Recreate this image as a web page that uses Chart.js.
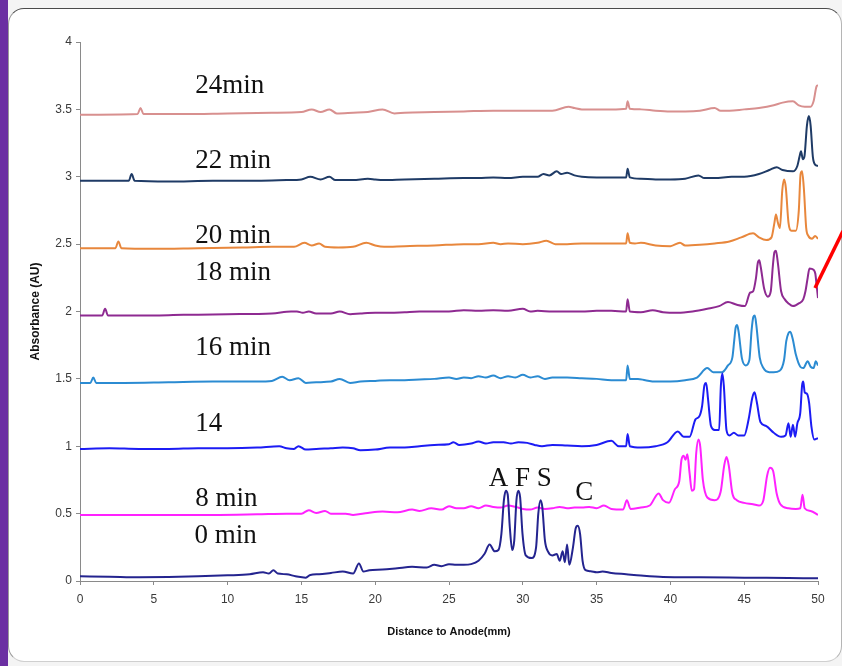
<!DOCTYPE html>
<html>
<head>
<meta charset="utf-8">
<script src="https://cdn.jsdelivr.net/npm/chart.js@4.4.1/dist/chart.umd.min.js"></script>
<style>
  html,body{margin:0;padding:0;}
  body{width:842px;height:666px;background:#f4f4f4;position:relative;overflow:hidden;}
  #bar{position:absolute;left:0;top:0;width:8px;height:666px;background:#6b2fa2;}
  #card{position:absolute;left:8px;top:8px;width:832px;height:652px;background:#fff;
    border-top:1.5px solid #4a4a4a;border-left:1px solid #9a9a9a;border-right:1px solid #b5b5b5;border-bottom:1px solid #cfcfcf;
    border-radius:16px;}
  #wrap{position:absolute;left:0;top:0;width:842px;height:666px;}
  #arrow{position:absolute;left:0;top:0;}
</style>
</head>
<body>
<div id="bar"></div>
<div id="card"></div>
<div id="wrap"><canvas id="chart" width="842" height="666"></canvas></div>
<svg id="arrow" width="842" height="666"><line x1="843" y1="231" x2="815" y2="288" stroke="#ff0000" stroke-width="3.5"/></svg>
<script>
/* electropherogram traces, x = distance to anode (mm), y = absorbance (AU) */
const trace0 = [[0,0.035],[2,0.032],[4,0.028],[6,0.03],[8,0.035],[10,0.042],[11.5,0.05],[12.4,0.065],[12.8,0.055],[13.1,0.08],[13.4,0.055],[14,0.05],[14.6,0.035],[15.3,0.025],[15.6,0.045],[16.2,0.05],[17,0.06],[17.8,0.07],[18.5,0.055],[18.9,0.13],[19.2,0.07],[19.6,0.08],[20.5,0.085],[21.5,0.095],[22.5,0.105],[23.5,0.1],[24,0.12],[24.5,0.11],[25,0.125],[25.5,0.12],[26,0.12],[26.5,0.125],[27,0.15],[27.4,0.2],[27.75,0.27],[28.1,0.22],[28.35,0.23],[28.55,0.35],[28.72,0.6],[28.85,0.67],[28.98,0.64],[29.12,0.4],[29.28,0.23],[29.42,0.3],[29.57,0.6],[29.7,0.67],[29.82,0.62],[29.98,0.35],[30.2,0.19],[30.6,0.17],[30.9,0.25],[31.05,0.5],[31.2,0.6],[31.32,0.55],[31.5,0.3],[31.7,0.22],[32.0,0.19],[32.3,0.2],[32.5,0.15],[32.7,0.22],[32.85,0.14],[33.0,0.27],[33.15,0.12],[33.4,0.25],[33.58,0.39],[33.72,0.41],[33.88,0.35],[34.05,0.15],[34.25,0.08],[34.6,0.072],[35,0.065],[35.4,0.07],[36,0.06],[37,0.05],[38,0.04],[39.5,0.03],[42,0.028],[45,0.025],[48,0.022],[50,0.02]];
const trace8 = [[0,0.49],[3,0.49],[6,0.49],[9,0.49],[12,0.495],[14,0.5],[15,0.5],[15.5,0.525],[16,0.505],[16.6,0.52],[17,0.5],[18,0.5],[18.5,0.49],[19.5,0.505],[20.5,0.515],[21.5,0.51],[22.5,0.53],[23,0.52],[23.8,0.54],[24.5,0.53],[25,0.555],[25.5,0.54],[26,0.54],[26.5,0.555],[27,0.54],[27.5,0.56],[28,0.55],[28.5,0.545],[29,0.56],[29.5,0.55],[30,0.535],[30.5,0.53],[31,0.545],[31.5,0.535],[32,0.54],[32.5,0.55],[33,0.54],[33.5,0.545],[34,0.545],[34.5,0.55],[35,0.54],[35.5,0.56],[36,0.535],[36.8,0.53],[37.05,0.6],[37.3,0.535],[38,0.545],[38.6,0.56],[39.2,0.65],[39.5,0.6],[39.9,0.58],[40.3,0.68],[40.6,0.74],[40.75,0.9],[40.9,0.93],[41.02,0.9],[41.15,0.94],[41.3,0.8],[41.45,0.67],[41.6,0.68],[41.75,0.95],[41.9,1.05],[42.02,1.0],[42.2,0.75],[42.5,0.62],[43.0,0.6],[43.4,0.66],[43.65,0.86],[43.8,0.92],[43.95,0.86],[44.2,0.65],[44.5,0.6],[45,0.58],[45.6,0.57],[46,0.56],[46.3,0.6],[46.55,0.78],[46.75,0.84],[46.95,0.82],[47.2,0.65],[47.45,0.57],[48,0.54],[48.5,0.535],[48.8,0.54],[48.95,0.64],[49.1,0.54],[49.5,0.52],[50,0.49]];
const trace14 = [[0,0.98],[2,0.985],[4,0.98],[6,0.98],[8,0.985],[10,0.985],[12,0.99],[13.5,1.0],[14.0,0.985],[14.5,0.98],[14.8,1.0],[15.3,0.975],[16,0.98],[17,0.985],[17.8,0.99],[18.5,0.985],[19,0.97],[20,0.975],[21,0.99],[22,0.99],[23,1.0],[24,1.01],[25,1.015],[25.3,1.03],[25.7,1.01],[26.5,1.02],[27,1.035],[27.5,1.02],[28,1.03],[28.7,1.03],[29.2,1.02],[29.7,1.03],[30.3,1.025],[30.8,1.01],[31.3,1.0],[32,1.01],[33,1.005],[34,1.0],[35,1.01],[36,1.04],[36.5,1.0],[37,1.0],[37.1,1.09],[37.25,1.0],[38,0.99],[39,1.0],[39.8,1.03],[40.5,1.11],[40.9,1.07],[41.3,1.07],[41.7,1.2],[41.95,1.22],[42.15,1.3],[42.3,1.45],[42.42,1.47],[42.55,1.35],[42.75,1.15],[43.0,1.12],[43.3,1.12],[43.42,1.45],[43.52,1.54],[43.62,1.45],[43.8,1.12],[44.0,1.08],[44.3,1.1],[44.6,1.08],[45.0,1.08],[45.3,1.2],[45.55,1.36],[45.7,1.4],[45.85,1.33],[46.1,1.18],[46.5,1.15],[47,1.1],[47.5,1.07],[47.8,1.08],[48.0,1.17],[48.15,1.07],[48.3,1.16],[48.45,1.07],[48.6,1.17],[48.8,1.25],[48.92,1.45],[49.0,1.48],[49.1,1.4],[49.25,1.39],[49.4,1.32],[49.55,1.15],[49.75,1.05],[50,1.06]];
const trace16 = [[0,1.47],[0.7,1.47],[0.9,1.51],[1.1,1.47],[3,1.47],[6,1.475],[9,1.48],[12,1.48],[13,1.485],[13.7,1.515],[14.2,1.49],[14.8,1.505],[15.3,1.47],[16,1.475],[17,1.48],[17.6,1.5],[18.3,1.47],[19,1.48],[20,1.485],[21,1.49],[22,1.49],[23,1.495],[24,1.5],[25,1.51],[25.5,1.5],[26,1.51],[26.5,1.505],[27,1.52],[27.5,1.51],[28,1.525],[28.5,1.505],[29,1.52],[29.5,1.51],[30,1.53],[30.5,1.51],[31,1.52],[31.5,1.5],[32,1.51],[33,1.51],[34,1.505],[35,1.5],[36,1.49],[37,1.49],[37.1,1.6],[37.25,1.5],[37.8,1.5],[38.3,1.49],[39,1.48],[40,1.48],[41,1.49],[41.8,1.51],[42.5,1.58],[42.9,1.55],[43.5,1.55],[43.9,1.6],[44.2,1.66],[44.32,1.78],[44.42,1.88],[44.52,1.9],[44.62,1.85],[44.85,1.65],[45.1,1.6],[45.35,1.64],[45.5,1.86],[45.62,1.96],[45.72,1.97],[45.82,1.9],[46.05,1.66],[46.3,1.58],[46.7,1.55],[47.0,1.55],[47.4,1.56],[47.7,1.64],[47.85,1.78],[48.0,1.84],[48.12,1.85],[48.28,1.8],[48.5,1.68],[48.8,1.59],[49.0,1.58],[49.3,1.63],[49.5,1.59],[49.7,1.58],[49.85,1.63],[50,1.6]];
const trace18 = [[0,1.97],[1.5,1.97],[1.7,2.02],[1.9,1.97],[4,1.97],[7,1.975],[10,1.98],[13,1.985],[14.3,2.0],[14.7,2.0],[15.1,1.99],[15.5,2.0],[16,1.985],[17,1.985],[17.6,2.0],[18.3,1.98],[19,1.985],[20,1.99],[21,1.99],[22,1.995],[23,2.0],[24,2.0],[25,2.0],[26,2.01],[27,2.005],[28,2.01],[29,2.005],[30,2.02],[30.5,2.0],[31,2.005],[32,2.0],[33,2.0],[34,2.0],[35,2.005],[36,2.005],[37,2.0],[37.1,2.09],[37.25,2.0],[38,1.995],[38.8,2.01],[39.5,1.995],[40.5,1.99],[41.5,2.0],[42.5,2.02],[43.3,2.04],[43.9,2.07],[44.5,2.05],[45.05,2.04],[45.4,2.14],[45.6,2.15],[45.8,2.25],[45.92,2.36],[46.02,2.38],[46.12,2.33],[46.35,2.17],[46.6,2.11],[46.8,2.15],[46.95,2.35],[47.05,2.44],[47.15,2.45],[47.28,2.36],[47.5,2.15],[47.75,2.09],[48.0,2.06],[48.3,2.04],[48.7,2.06],[49.0,2.09],[49.15,2.15],[49.3,2.25],[49.42,2.32],[49.7,2.31],[49.82,2.28],[49.92,2.18],[50,2.1]];
const trace20 = [[0,2.47],[2.4,2.47],[2.6,2.52],[2.8,2.47],[5,2.465],[8,2.47],[11,2.475],[13,2.48],[14.5,2.48],[15.2,2.51],[15.7,2.49],[16.2,2.505],[16.6,2.48],[17.5,2.475],[18.5,2.48],[19.4,2.51],[20,2.49],[20.6,2.48],[22,2.485],[24,2.49],[26,2.5],[27,2.5],[28,2.51],[28.5,2.5],[29,2.505],[30,2.5],[31,2.51],[31.6,2.525],[32.2,2.5],[33,2.5],[34,2.505],[35,2.505],[36,2.505],[37,2.505],[37.1,2.58],[37.25,2.51],[37.6,2.505],[38,2.51],[39,2.49],[40,2.485],[40.65,2.51],[41,2.49],[42,2.495],[43,2.505],[44,2.52],[44.8,2.55],[45.6,2.58],[46.0,2.55],[46.5,2.53],[46.85,2.55],[47.05,2.66],[47.15,2.72],[47.28,2.66],[47.42,2.62],[47.58,2.9],[47.7,2.98],[47.82,2.92],[48.0,2.66],[48.2,2.6],[48.5,2.6],[48.7,2.75],[48.82,3.02],[48.92,3.04],[49.05,2.9],[49.2,2.62],[49.35,2.56],[49.6,2.54],[49.8,2.56],[50,2.54]];
const trace22 = [[0,2.97],[3.3,2.97],[3.5,3.02],[3.7,2.97],[6,2.965],[9,2.97],[12,2.97],[14,2.975],[15,2.98],[15.6,3.0],[16.3,2.98],[16.9,3.0],[17.3,2.975],[18.5,2.975],[19.5,2.985],[20,2.98],[20.5,2.975],[22,2.98],[24,2.985],[26,2.99],[27,2.99],[28,2.995],[29,2.99],[30,3.0],[31,3.0],[31.4,3.02],[31.8,3.01],[32.3,3.04],[32.6,3.02],[33,3.03],[33.5,3.01],[34,3.0],[35,2.995],[36,2.995],[37,2.995],[37.1,3.06],[37.25,2.995],[38,2.985],[39,2.98],[40,2.98],[41,2.985],[41.9,3.01],[42.3,2.99],[43,2.99],[44.15,3.0],[45,3.0],[46,3.02],[46.7,3.05],[47.2,3.07],[47.6,3.05],[48.3,3.04],[48.6,3.08],[48.75,3.15],[48.85,3.19],[48.97,3.13],[49.08,3.15],[49.25,3.38],[49.38,3.45],[49.5,3.38],[49.65,3.15],[49.8,3.09],[50,3.08]];
const trace24 = [[0,3.46],[3.9,3.465],[4.1,3.51],[4.3,3.465],[7,3.465],[10,3.47],[13,3.475],[15,3.48],[15.7,3.5],[16.3,3.48],[16.9,3.5],[17.4,3.47],[18.5,3.475],[19.5,3.48],[20.5,3.5],[21.3,3.47],[22,3.475],[24,3.48],[26,3.485],[28,3.49],[30,3.49],[32,3.49],[33.1,3.52],[33.5,3.51],[34,3.5],[35,3.5],[36,3.5],[37,3.505],[37.1,3.56],[37.25,3.505],[38,3.5],[39,3.49],[40,3.485],[41,3.485],[42,3.49],[43,3.51],[43.4,3.49],[44,3.49],[45,3.5],[46,3.51],[47,3.53],[47.6,3.55],[48.3,3.56],[48.7,3.53],[49.1,3.52],[49.5,3.52],[49.7,3.56],[49.9,3.67],[50,3.68]];

const traces = [trace0, trace8, trace14, trace16, trace18, trace20, trace22, trace24];
const seriesNames = ['0 min','8 min','14','16 min','18 min','20 min','22 min','24 min'];
const seriesColors = ['#24248f','#ff22ff','#1c1cf4','#2b8bd2','#8e2a91','#e8873c','#1f3b66','#d8908f'];

// text labels: [text, x (mm), y (AU baseline)]
const textLabels = [
  ['24min', 7.8, 3.62], ['22 min', 7.8, 3.065], ['20 min', 7.8, 2.508], ['18 min', 7.8, 2.234],
  ['16 min', 7.8, 1.677], ['14', 7.8, 1.113], ['8 min', 7.8, 0.557], ['0 min', 7.75, 0.282],
  ['A F S', 27.7, 0.705], ['C', 33.55, 0.6]
];

const labelPlugin = {
  id:'labels',
  afterDatasetsDraw(c){
    const {ctx, scales:{x,y}} = c;
    ctx.save();
    ctx.fillStyle = '#111';
    ctx.font = '27px "Liberation Serif", "DejaVu Serif", serif';
    ctx.textBaseline = 'alphabetic';
    ctx.textAlign = 'left';
    textLabels.forEach(([t,vx,vy])=>ctx.fillText(t, x.getPixelForValue(vx), y.getPixelForValue(vy)));
    ctx.restore();
  }
};

const axisCommon = {
  border:{color:'#8a8a8a', width:1},
  grid:{drawOnChartArea:false, color:'#8a8a8a', tickLength:4},
};

new Chart(document.getElementById('chart'), {
  type:'line',
  data:{
    datasets: traces.map((tr,i)=>({
      label: seriesNames[i],
      data: tr.map(([x,y])=>({x,y})),
      borderColor: seriesColors[i],
      borderWidth: 2,
      pointRadius: 0,
      cubicInterpolationMode: 'monotone',
      fill: false
    }))
  },
  options:{
    responsive:false, animation:false,
    layout:{padding:{left:20, top:42, right:24, bottom:15}},
    plugins:{legend:{display:false}, tooltip:{enabled:false}},
    scales:{
      x:{
        type:'linear', min:0, max:50,
        ...axisCommon,
        ticks:{stepSize:5, color:'#3a3a3a', padding:7, font:{family:'"Liberation Sans", Arial, sans-serif', size:12}, maxRotation:0},
        title:{display:true, text:'Distance to Anode(mm)', color:'#111', padding:{top:0,bottom:12},
          font:{family:'"Liberation Sans", Arial, sans-serif', size:11, weight:'bold'}},
        afterFit(s){ s.height = 70; }
      },
      y:{
        min:0, max:4,
        ...axisCommon,
        ticks:{stepSize:0.5, color:'#3a3a3a', padding:4, font:{family:'"Liberation Sans", Arial, sans-serif', size:12},
          callback:v=>String(v)},
        title:{display:true, text:'Absorbance (AU)', color:'#111', padding:{top:8,bottom:0},
          font:{family:'"Liberation Sans", Arial, sans-serif', size:12, weight:'bold'}},
        afterFit(s){ s.width = 60; }
      }
    }
  },
  plugins:[labelPlugin]
});
</script>
</body>
</html>
